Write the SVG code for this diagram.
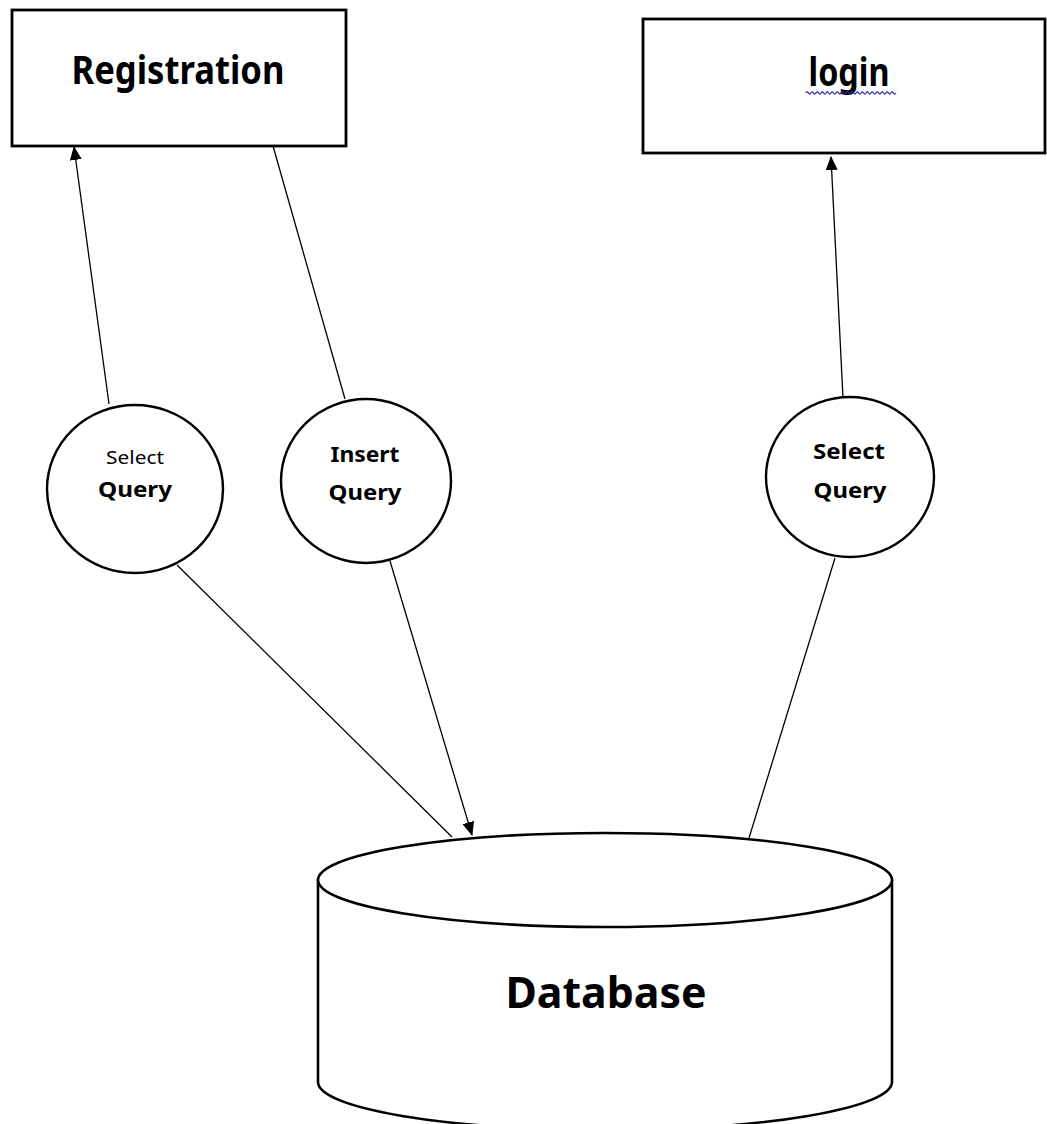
<svg xmlns="http://www.w3.org/2000/svg" width="1047" height="1124" viewBox="0 0 1047 1124">
<style>
.box{fill:#fff;stroke:#000;stroke-width:2.8}
.proc{fill:#fff;stroke:#000;stroke-width:2.4}
.db{fill:#fff;stroke:#000;stroke-width:2.6}
.conn{stroke:#000;stroke-width:1.3;fill:none}
.t{font-family:"Noto Sans","Open Sans","Liberation Sans",sans-serif;fill:#000;text-anchor:middle}
.b{font-weight:700}
</style>
<defs>
<marker id="arr" markerUnits="userSpaceOnUse" markerWidth="14" markerHeight="12" viewBox="0 0 14 12" refX="13" refY="6" orient="auto">
<path d="M0,0 L14,6 L0,12 Z" fill="#000"/>
</marker>
</defs>
<rect width="1047" height="1124" fill="#fff"/>
<g id="connectors">
<line class="conn" x1="109" y1="404" x2="74" y2="147" marker-end="url(#arr)"/>
<line class="conn" x1="345" y1="399" x2="273" y2="146"/>
<line class="conn" x1="843" y1="398" x2="831" y2="157" marker-end="url(#arr)"/>
<line class="conn" x1="177" y1="565" x2="452" y2="837"/>
<line class="conn" x1="390" y1="561" x2="472" y2="835" marker-end="url(#arr)"/>
<line class="conn" x1="835" y1="558" x2="749" y2="838"/>
</g>
<g id="registration">
<rect class="box" x="12" y="10" width="334" height="136"/>
<text class="t b" x="178" y="84" font-size="39" textLength="213" lengthAdjust="spacingAndGlyphs">Registration</text>
</g>
<g id="login">
<rect class="box" x="643" y="19" width="402" height="134"/>
<text class="t b" x="849" y="86" font-size="39" textLength="81" lengthAdjust="spacingAndGlyphs">login</text>
<path d="M806,93 q1.25,-2.2 2.5,0 t2.5,0 t2.5,0 t2.5,0 t2.5,0 t2.5,0 t2.5,0 t2.5,0 t2.5,0 t2.5,0 t2.5,0 t2.5,0 t2.5,0 t2.5,0 t2.5,0 t2.5,0 t2.5,0 t2.5,0 t2.5,0 t2.5,0 t2.5,0 t2.5,0 t2.5,0 t2.5,0 t2.5,0 t2.5,0 t2.5,0 t2.5,0 t2.5,0 t2.5,0 t2.5,0 t2.5,0 t2.5,0 t2.5,0 t2.5,0 t2.5,0" fill="none" stroke="#2b2ba0" stroke-width="1.2"/>
</g>
<g id="select-query-1">
<ellipse class="proc" cx="135" cy="489" rx="88" ry="84"/>
<text class="t" x="135" y="464" font-size="18" textLength="58" lengthAdjust="spacingAndGlyphs">Select</text>
<text class="t b" x="135" y="497" font-size="22" textLength="74" lengthAdjust="spacingAndGlyphs">Query</text>
</g>
<g id="insert-query">
<ellipse class="proc" cx="366" cy="481" rx="85" ry="82"/>
<text class="t b" x="365" y="462" font-size="22" textLength="69" lengthAdjust="spacingAndGlyphs">Insert</text>
<text class="t b" x="365" y="500" font-size="22" textLength="73" lengthAdjust="spacingAndGlyphs">Query</text>
</g>
<g id="select-query-2">
<ellipse class="proc" cx="850" cy="477" rx="84" ry="80"/>
<text class="t b" x="849" y="459" font-size="22" textLength="72" lengthAdjust="spacingAndGlyphs">Select</text>
<text class="t b" x="850" y="498" font-size="22" textLength="73" lengthAdjust="spacingAndGlyphs">Query</text>
</g>
<g id="database">
<path class="db" d="M318,880 L318,1082 A287,48 0 0 0 892,1082 L892,880"/>
<ellipse class="db" cx="605" cy="880" rx="287" ry="47"/>
<text class="t b" x="606" y="1008" font-size="43" textLength="201" lengthAdjust="spacingAndGlyphs">Database</text>
</g>
</svg>
